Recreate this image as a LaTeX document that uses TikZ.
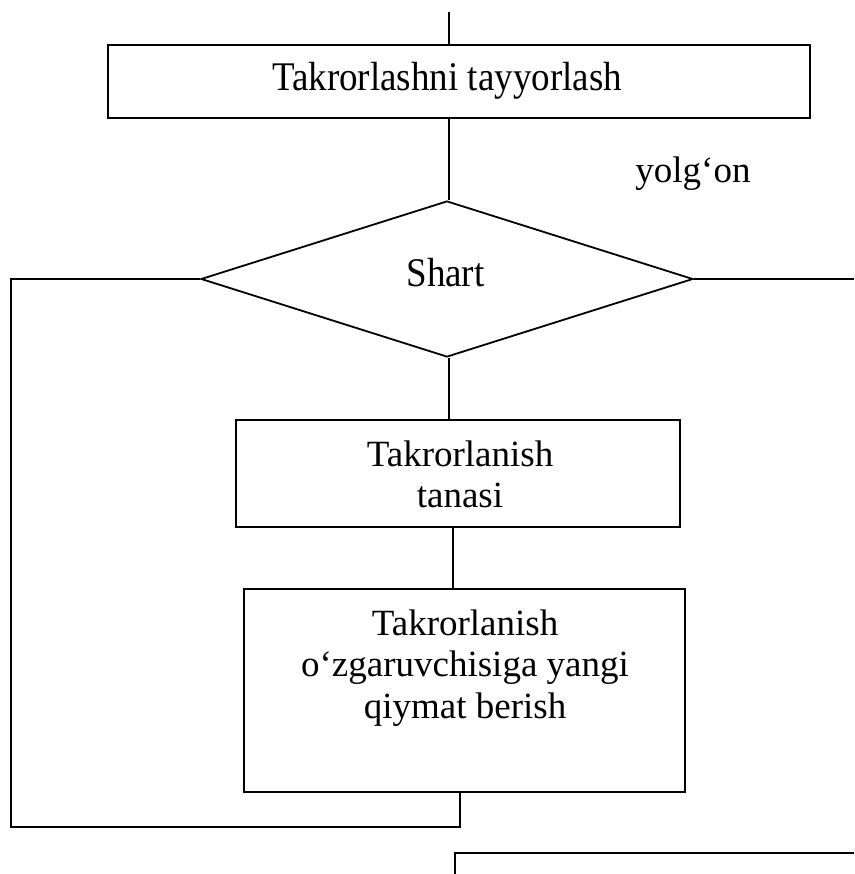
\documentclass[tikz,border=0pt]{standalone}
\usepackage{fontspec}
\usepackage{graphicx}
\setmainfont{Liberation Serif}
\usetikzlibrary{shapes.geometric}
% centred block of lines whose baseline is that of the first line
\newcommand{\linesc}[1]{\begin{tabular}[t]{@{}c@{}}#1\end{tabular}}
\newcommand{\tallc}[1]{\scalebox{1}[1.1]{#1}}
\begin{document}
\begin{tikzpicture}[x=1pt,y=-1pt,line width=1.8pt,
  every node/.style={font=\fontsize{37}{41.5}\selectfont},
  box/.style={draw,rectangle,inner sep=0pt},
  decision/.style={draw,diamond,aspect=3.2,inner sep=0pt,minimum width=492pt,minimum height=156pt},
  txt/.style={inner sep=0pt,anchor=base}]
\useasboundingbox (0,0) rectangle (854,874);

% blocks
\node[box,minimum width=702pt,minimum height=73pt] (prep) at (459,81.5) {};
\node[decision] (cond) at (447,279) {};
\node[box,minimum width=444pt,minimum height=107pt] (body) at (458,473.5) {};
\node[box,minimum width=441pt,minimum height=203pt] (upd) at (464.5,690.5) {};

% texts (placed on their baselines)
\node[txt] (preptxt) at (447,91) {\tallc{Takrorlashni tayyorlash}};
\node[txt] (condtxt) at (445.5,286) {\tallc{Shart}};
\node[txt] (bodytxt) at (460,466) {\linesc{Takrorlanish\\tanasi}};
\node[txt] (updtxt) at (465,635) {\linesc{Takrorlanish\\o‘zgaruvchisiga yangi\\qiymat berish}};
\node[txt] (no) at (693,183) {yolg‘on};

% free ends
\coordinate (in) at (449,12);
\coordinate (exitR) at (854,279);
\coordinate (loopL) at (11,279);
\coordinate (loopB) at (11,827);
\coordinate (loopE) at (460,827);
\coordinate (outC) at (455,853);
\coordinate (outR) at (854,853);
\coordinate (outD) at (455,874);

% connectors
\draw (in) -- (in |- prep.north);
\draw (449,0 |- prep.south) -- (449,0 |- cond.north);
\draw (449,0 |- cond.south) -- (449,0 |- body.north);
\draw (453,0 |- body.south) -- (453,0 |- upd.north);
\draw (cond.east) -- (exitR);
\draw (cond.west) -- (loopL) -- (loopB) -- (loopE) -- (loopE |- upd.south);
\draw (outR) -- (outC) -- (outD);
\end{tikzpicture}
\end{document}
